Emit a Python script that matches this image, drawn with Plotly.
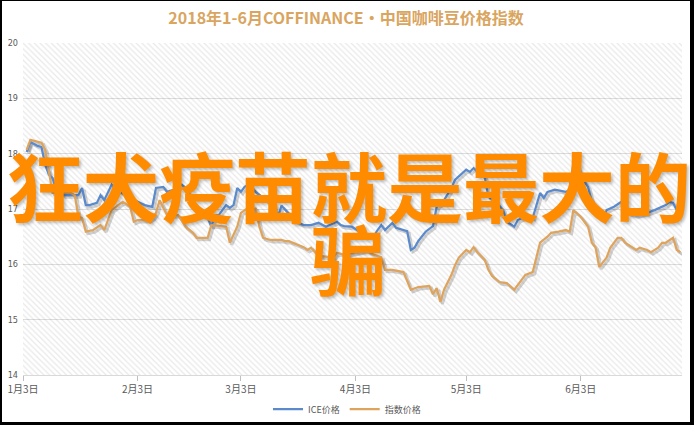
import plotly.graph_objects as go
import pandas as pd

TITLE = "2018年1-6月COFFINANCE•中国咖啡豆价格指数"
OVERLAY_LINE1 = "狂犬疫苗就是最大的"
OVERLAY_LINE2 = "骗"

SERIES_NAMES = ["ICE价格", "指数价格"]

ICE_DATES = ["01-04","01-05","01-07","01-08","01-09","01-10","01-11","01-12","01-14","01-16",
             "01-18","01-19","01-20","01-21","01-23","01-24","01-25","01-27","01-28","01-31",
             "02-02","02-05","02-07","02-08","02-10","02-11","02-13","02-15","02-16","02-18",
             "02-21","02-22","02-23","02-24","02-25","02-27","02-28","03-01","03-02","03-03",
             "03-04","03-05","03-07","03-09","03-11","03-12","03-13","03-14","03-16","03-18",
             "03-20","03-22","03-24","03-26","03-29","03-30","03-31","04-02","04-03","04-05",
             "04-06","04-08","04-09","04-10","04-11","04-13","04-14","04-17","04-18","04-19",
             "04-20","04-22","04-24","04-25","04-27","04-29","04-30","05-02","05-03","05-04",
             "05-05","05-06","05-08","05-09","05-11","05-13","05-14","05-16","05-17","05-19",
             "05-21","05-23","05-24","05-25","05-27","05-30","05-31","06-01","06-02","06-03",
             "06-05","06-06","06-08","06-09","06-10","06-12","06-14","06-15","06-18","06-21",
             "06-23","06-26","06-27","06-28","06-29"]
ICE_VALUES = [18.03,18.21,18.14,18.12,17.80,17.62,17.56,17.35,17.25,17.25,
              17.25,17.38,17.07,17.07,17.11,17.25,17.16,17.44,17.35,17.25,
              17.16,17.07,17.04,17.38,17.40,17.31,17.35,17.44,17.38,17.13,
              16.89,16.84,16.68,16.89,16.89,17.07,17.02,17.07,17.38,17.31,
              17.40,17.44,17.31,17.20,17.11,17.04,16.84,17.06,16.91,16.77,
              16.71,16.71,16.75,16.68,16.77,16.71,16.69,16.68,16.64,16.55,
              16.53,16.51,16.62,16.71,16.62,16.75,16.66,16.60,16.26,16.30,
              16.42,16.59,16.69,17.04,17.16,17.38,17.53,17.65,17.71,17.67,
              17.74,17.67,17.58,17.22,17.13,16.98,16.77,16.68,16.80,16.86,
              16.84,17.29,17.20,17.31,17.35,17.31,17.35,17.80,17.83,17.58,
              17.40,17.13,16.84,16.80,16.98,17.04,17.13,16.95,16.89,16.93,
              16.98,17.07,17.13,17.11,16.98]

IDX_DATES = ["01-04","01-05","01-08","01-09","01-10","01-11","01-13","01-16","01-17","01-18",
             "01-19","01-20","01-22","01-24","01-25","01-26","01-27","01-30","02-01","02-02",
             "02-03","02-06","02-07","02-08","02-09","02-10","02-11","02-14","02-16","02-18",
             "02-19","02-22","02-23","02-27","02-28","03-02","03-03","03-05","03-06","03-07",
             "03-08","03-09","03-11","03-14","03-15","03-16","03-18","03-20","03-21","03-22",
             "03-24","03-25","03-28","03-29","03-31","04-03","04-06","04-08","04-10","04-11",
             "04-13","04-16","04-18","04-20","04-23","04-24","04-25","04-26","04-27","04-29",
             "04-30","05-01","05-03","05-04","05-05","05-06","05-08","05-09","05-10","05-12",
             "05-14","05-16","05-18","05-19","05-21","05-23","05-25","05-26","05-28","05-30",
             "05-31","06-01","06-03","06-05","06-06","06-07","06-08","06-10","06-11","06-13",
             "06-14","06-15","06-18","06-19","06-21","06-22","06-24","06-25","06-26","06-28",
             "06-29","06-30"]
IDX_VALUES = [18.07,18.25,18.20,18.07,17.68,17.29,17.29,17.29,17.25,16.86,
              16.84,16.59,16.62,16.71,16.62,16.80,16.98,17.13,17.04,16.77,
              16.80,16.80,16.84,16.93,17.16,17.02,16.89,16.89,16.68,16.57,
              16.48,16.48,16.71,16.68,16.39,16.68,16.93,17.02,16.93,17.02,
              16.68,16.48,16.44,16.44,16.42,16.42,16.37,16.31,16.26,16.30,
              16.15,16.15,16.12,16.21,16.17,16.22,16.26,16.17,16.13,15.90,
              15.90,15.86,15.54,15.59,15.61,15.46,15.57,15.32,15.54,15.81,
              15.99,16.12,16.26,16.22,16.31,16.22,16.08,15.90,15.79,15.68,
              15.66,15.54,15.72,15.81,15.86,16.39,16.50,16.57,16.59,16.62,
              16.59,16.98,16.86,16.68,16.39,16.31,15.95,16.12,16.30,16.48,
              16.48,16.39,16.26,16.30,16.26,16.22,16.30,16.39,16.39,16.48,
              16.26,16.22]

TICK_DATES = ["2018-01-03", "2018-02-03", "2018-03-03", "2018-04-03", "2018-05-03", "2018-06-03"]
TICK_TEXT = ["1月3日", "2月3日", "3月3日", "4月3日", "5月3日", "6月3日"]
Y_TICKS = [14, 15, 16, 17, 18, 19, 20]

X_MIN = pd.Timestamp("2018-01-03")
X_MAX = pd.Timestamp("2018-06-30 10:00")
Y_MIN, Y_MAX = 14, 20

COLORS = ["#5A8ACB", "#DEA45E"]

# page frame (black border of the picture): left, top, right, bottom in px
FRAME = (2, 1, 4, 3)
PAGE_W, PAGE_H = 694, 425
W, H = PAGE_W - FRAME[0] - FRAME[2], PAGE_H - FRAME[1] - FRAME[3]
# plot area in page pixels: x 23..682, y 43..375
ML, MT = 23 - FRAME[0], 43 - FRAME[1]
MR, MB = W - (682 - FRAME[0]), H - (375 - FRAME[1])
PW, PH = W - ML - MR, H - MT - MB

ice_x = pd.to_datetime(["2018-" + d for d in ICE_DATES])
idx_x = pd.to_datetime(["2018-" + d for d in IDX_DATES])

# pixel scales for shadow offset
days_span = (X_MAX - X_MIN) / pd.Timedelta(days=1)
px_per_day = PW / days_span
px_per_unit = PH / (Y_MAX - Y_MIN)
sx = pd.Timedelta(days=2.0 / px_per_day)
sy = 2.0 / px_per_unit

fig = go.Figure()

# hatched plot background
fig.add_trace(go.Scatter(
    x=[X_MIN, X_MAX, X_MAX, X_MIN, X_MIN], y=[Y_MIN, Y_MIN, Y_MAX, Y_MAX, Y_MIN],
    mode="lines", line=dict(width=0), fill="toself", fillcolor="rgba(0,0,0,0)",
    fillpattern=dict(shape="\\", fgcolor="rgba(0,0,0,0.17)", bgcolor="rgba(0,0,0,0)",
                     size=4, solidity=0.3),
    hoverinfo="skip", showlegend=False, xaxis="x", yaxis="y"))

# shadows
for xs, ys in [(ice_x, ICE_VALUES), (idx_x, IDX_VALUES)]:
    fig.add_trace(go.Scatter(x=xs, y=ys, mode="lines",
                             line=dict(color="rgba(0,0,0,0.18)", width=3),
                             hoverinfo="skip", showlegend=False, xaxis="x2", yaxis="y2"))

for xs, ys, name, c in [(ice_x, ICE_VALUES, SERIES_NAMES[0], COLORS[0]),
                        (idx_x, IDX_VALUES, SERIES_NAMES[1], COLORS[1])]:
    fig.add_trace(go.Scatter(x=xs, y=ys, mode="lines", name=name,
                             line=dict(color=c, width=2.25),
                             xaxis="x3", yaxis="y3"))

font_cjk = "Noto Sans CJK SC"

def px2paper(px, py):
    # page pixel -> paper coords
    fx, fy = px - FRAME[0], py - FRAME[1]
    return (fx - ML) / PW, (H - MB - fy) / PH

ov1x, ov1y = px2paper(349, 184)
ov2x, ov2y = px2paper(348, 257)
leg_x, leg_y = px2paper(347, 409)

fig.update_layout(
    width=W, height=H,
    margin=dict(l=ML, r=MR, t=MT, b=MB, autoexpand=False),
    paper_bgcolor="white", plot_bgcolor="white",
    title=dict(text="<b>" + TITLE + "</b>", x=0.5, xanchor="center",
               y=1 - (18 - FRAME[1]) / H, yanchor="middle",
               font=dict(family=font_cjk, size=16, color="#D9A55F")),
    xaxis=dict(type="date", range=[X_MIN, X_MAX], tickvals=TICK_DATES, ticktext=TICK_TEXT,
               showgrid=False, showline=True, linecolor="#D9D9D9", linewidth=1,
               ticks="outside", ticklen=5, tickcolor="#BFBFBF", automargin=False,
               tickfont=dict(family=font_cjk, size=10, color="#595959"), zeroline=False),
    yaxis=dict(range=[Y_MIN, Y_MAX], tickvals=Y_TICKS, showgrid=True, gridcolor="#DEDEDE",
               gridwidth=1, zeroline=False, showline=False, ticks="", automargin=False,
               ticklabelstandoff=4,
               tickfont=dict(family="DejaVu Sans Condensed, Liberation Sans Narrow", size=9, color="#595959")),
    xaxis2=dict(type="date", range=[X_MIN - sx, X_MAX - sx], overlaying="x", visible=False),
    yaxis2=dict(range=[Y_MIN + sy, Y_MAX + sy], overlaying="y", visible=False),
    xaxis3=dict(type="date", range=[X_MIN, X_MAX], overlaying="x", visible=False),
    yaxis3=dict(range=[Y_MIN, Y_MAX], overlaying="y", visible=False),
    legend=dict(orientation="h", x=leg_x, xanchor="center", y=leg_y, yanchor="middle",
                font=dict(family=font_cjk, size=9, color="#595959"),
                itemwidth=30, bgcolor="rgba(0,0,0,0)"),
    annotations=[
        dict(text="<b>" + OVERLAY_LINE1 + "</b>", xref="paper", yref="paper", x=ov1x, y=ov1y,
             xanchor="center", yanchor="middle", showarrow=False,
             font=dict(family=font_cjk, size=76, color="#FF8C00",
                       shadow="2px 2px 3px rgba(0,0,0,0.25)")),
        dict(text="<b>" + OVERLAY_LINE2 + "</b>", xref="paper", yref="paper", x=ov2x, y=ov2y,
             xanchor="center", yanchor="middle", showarrow=False,
             font=dict(family=font_cjk, size=76, color="#FF8C00",
                       shadow="2px 2px 3px rgba(0,0,0,0.25)")),
    ],
)

page_css = ("document.body.style.margin='{}px {}px {}px {}px';"
            "document.body.style.background='black';"
            "document.documentElement.style.background='black';"
            "document.body.style.overflow='hidden';").format(FRAME[1], FRAME[2], FRAME[3], FRAME[0])

fig.write_html("out.html", config={"displayModeBar": False}, post_script=page_css)
